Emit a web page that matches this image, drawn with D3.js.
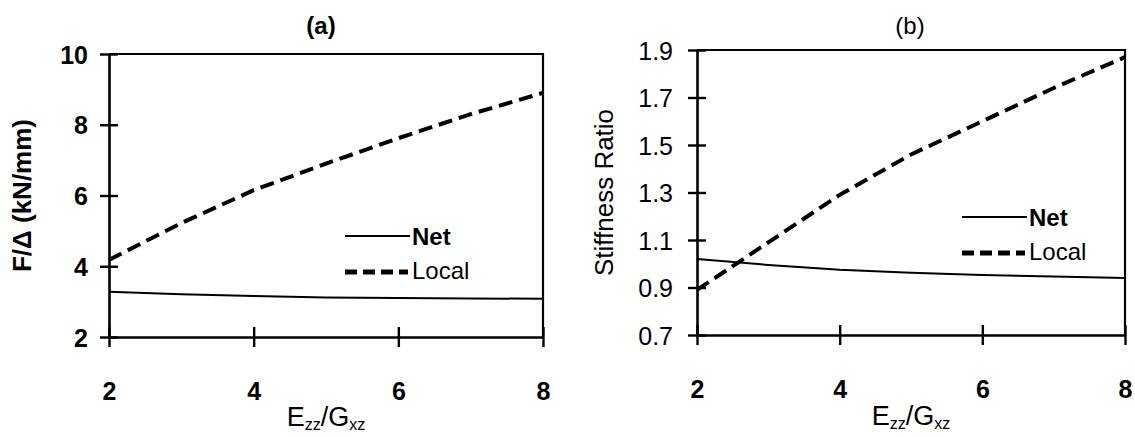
<!DOCTYPE html>
<html>
<head>
<meta charset="utf-8">
<script src="https://cdn.jsdelivr.net/npm/d3@7"></script>
<style>
  html, body { margin: 0; padding: 0; background: #fff; }
  svg { display: block; font-family: "Liberation Sans", Arial, Helvetica, sans-serif; }
</style>
</head>
<body>
<svg id="chart" width="1135" height="437"></svg>
<script>
// Modulus ratio on the x axis
const ratio = [2, 3, 4, 5, 6, 7, 8];
const xTicks = [2, 4, 6, 8];

// (a) stiffness F/Δ in kN/mm
const netA   = [3.28, 3.21, 3.16, 3.12, 3.10, 3.09, 3.08];
const localA = [4.18, 5.22, 6.15, 6.90, 7.62, 8.30, 8.90];
const yTicksA = [2, 4, 6, 8, 10];

// (b) stiffness ratio
const netB   = [1.02, 0.995, 0.975, 0.962, 0.953, 0.946, 0.94];
const localB = [0.89, 1.09, 1.29, 1.46, 1.60, 1.74, 1.87];
const yTicksB = [0.7, 0.9, 1.1, 1.3, 1.5, 1.7, 1.9];

const svg = d3.select("#chart");
svg.append("rect").attr("width", 1135).attr("height", 437).attr("fill", "#fff");

function drawPanel(o) {
  const x = d3.scaleLinear().domain([2, 8]).range([o.left, o.right]);
  const y = d3.scaleLinear().domain(o.yDomain).range([o.bottom, o.top]);
  const g = svg.append("g");

  // frame: top and right edges
  g.append("path")
    .attr("d", `M${o.left},${o.top}H${o.right}V${o.bottom}`)
    .attr("fill", "none").attr("stroke", "#000").attr("stroke-width", 2.2);

  // y axis with ticks crossing the axis line
  const ya = g.append("g").attr("transform", `translate(${o.left},0)`)
    .call(d3.axisLeft(y).tickValues(o.yTicks).tickSize(9).tickSizeOuter(0)
      .tickFormat(o.yFormat));
  ya.select(".domain").attr("stroke-width", 2.6);
  ya.selectAll(".tick line").attr("x1", 9).attr("stroke-width", 2.4);
  ya.selectAll(".tick text")
    .attr("x", -o.yLabelGap).attr("dy", "0.36em")
    .attr("font-size", 25).attr("font-weight", o.yLabelWeight)
    .attr("font-family", "Liberation Sans, Arial, sans-serif").attr("fill", "#000");

  // x axis
  const xa = g.append("g").attr("transform", `translate(0,${o.bottom})`)
    .call(d3.axisBottom(x).tickValues(xTicks).tickSize(10).tickSizeOuter(0)
      .tickFormat(d3.format("d")));
  xa.select(".domain").attr("stroke-width", 2.6);
  xa.selectAll(".tick line").attr("y1", -10).attr("stroke-width", 2.4);
  xa.selectAll(".tick text")
    .attr("y", o.xLabelBase - o.bottom).attr("dy", 0)
    .attr("font-size", 25).attr("font-weight", "bold")
    .attr("font-family", "Liberation Sans, Arial, sans-serif").attr("fill", "#000");

  // data lines
  const line = d3.line().x((d, i) => x(ratio[i])).y(d => y(d));
  g.append("path").datum(o.net).attr("d", line)
    .attr("fill", "none").attr("stroke", "#000").attr("stroke-width", 2);
  g.append("path").datum(o.local).attr("d", line)
    .attr("fill", "none").attr("stroke", "#000").attr("stroke-width", 4)
    .attr("stroke-dasharray", "14,7");

  // legend
  const lg = g.append("g");
  lg.append("line").attr("x1", o.legX).attr("x2", o.legX + 65)
    .attr("y1", o.legY).attr("y2", o.legY)
    .attr("stroke", "#000").attr("stroke-width", 2);
  lg.append("text").attr("x", o.legX + 67).attr("y", o.legY + 9)
    .attr("font-size", 24).attr("font-weight", "bold").text("Net");
  lg.append("line").attr("x1", o.legX).attr("x2", o.legX + 63)
    .attr("y1", o.legY + 36).attr("y2", o.legY + 36)
    .attr("stroke", "#000").attr("stroke-width", 5)
    .attr("stroke-dasharray", "12,6");
  lg.append("text").attr("x", o.legX + 67).attr("y", o.legY + 43)
    .attr("font-size", 24).text("Local");

  // panel title
  g.append("text").attr("x", o.titleX).attr("y", 34)
    .attr("text-anchor", "middle").attr("font-size", 24)
    .attr("font-weight", o.titleWeight).text(o.title);

  // x axis title with subscripts
  const xt = g.append("text").attr("x", (o.left + o.right) / 2).attr("y", o.xTitleBase)
    .attr("text-anchor", "middle").attr("font-size", 27);
  xt.append("tspan").text("E");
  xt.append("tspan").attr("font-size", 16).attr("dy", 4).text("zz");
  xt.append("tspan").attr("dy", -4).text("/G");
  xt.append("tspan").attr("font-size", 16).attr("dy", 4).text("xz");

  // y axis title
  g.append("text")
    .attr("transform", `translate(${o.yTitleX},${(o.top + o.bottom) / 2}) rotate(-90)`)
    .attr("text-anchor", "middle").attr("font-size", 26)
    .attr("font-weight", o.yTitleWeight).text(o.yTitle);
}

drawPanel({
  left: 109, right: 543, top: 54, bottom: 337,
  yDomain: [2, 10], yTicks: yTicksA, yFormat: d3.format("d"),
  yLabelGap: 21, yLabelWeight: "bold", xLabelBase: 400, xTitleBase: 426,
  net: netA, local: localA, legX: 345, legY: 236,
  title: "(a)", titleX: 321, titleWeight: "bold",
  yTitle: "F/Δ (kN/mm)", yTitleX: 31, yTitleWeight: "bold"
});

drawPanel({
  left: 697, right: 1125, top: 50, bottom: 335,
  yDomain: [0.7, 1.9], yTicks: yTicksB, yFormat: d3.format(".1f"),
  yLabelGap: 24, yLabelWeight: "normal", xLabelBase: 398, xTitleBase: 425,
  net: netB, local: localB, legX: 962, legY: 217,
  title: "(b)", titleX: 910, titleWeight: "normal",
  yTitle: "Stiffness Ratio", yTitleX: 613, yTitleWeight: "normal"
});
</script>
</body>
</html>
